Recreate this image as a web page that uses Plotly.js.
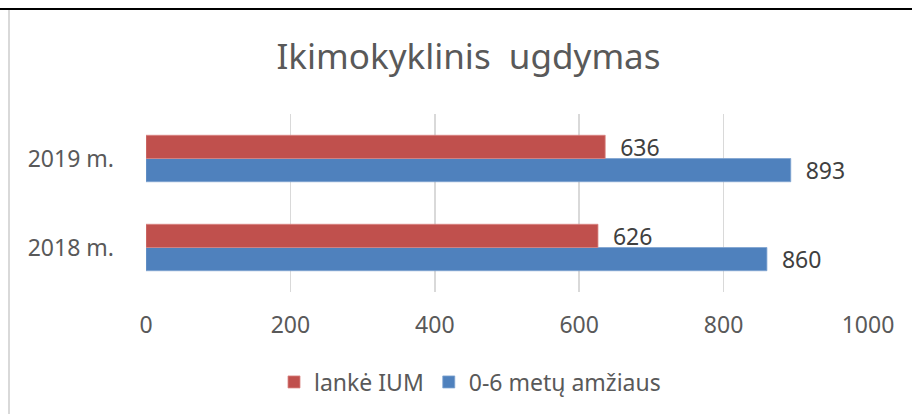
<!DOCTYPE html>
<html>
<head>
<meta charset="utf-8">
<script src="https://cdn.plot.ly/plotly-3.0.1.min.js"></script>
<style>
  html, body { margin: 0; padding: 0; background: #fff; }
  #wrap { position: relative; width: 912px; height: 414px; overflow: hidden; }
  #chart { position: absolute; left: 0; top: 0; width: 912px; height: 414px; }
  #topline { position: absolute; left: 0; top: 8px; width: 912px; height: 2px; background: #000; z-index: 5; }
  #leftline { position: absolute; left: 8px; top: 10px; width: 1.5px; height: 404px; background: #d9d9d9; z-index: 5; }
</style>
</head>
<body>
<div id="wrap">
  <div id="chart"></div>
  <div id="topline"></div>
  <div id="leftline"></div>
</div>
<script>
const categories = ["2018 m.", "2019 m."];
const seriesNames = ["lankė IUM", "0-6 metų amžiaus"];
const lankeIUM = [626, 636];
const amziaus06 = [860, 893];
const xTicks = [0, 200, 400, 600, 800, 1000];

const labelFont = { family: "Noto Sans, Open Sans, sans-serif", size: 23, color: "#404040" };

const traces = [
  {
    type: "bar", orientation: "h", name: seriesNames[1],
    y: categories, x: amziaus06,
    marker: { color: "#4F81BD", line: { color: "#7FA3D1", width: 0.8 } },
    text: amziaus06.map(v => "\u00a0\u00a0" + v), textposition: "outside",
    textfont: labelFont, constraintext: "none", cliponaxis: false,
    hoverinfo: "x+name"
  },
  {
    type: "bar", orientation: "h", name: seriesNames[0],
    y: categories, x: lankeIUM,
    marker: { color: "#C0504D", line: { color: "#D98583", width: 0.8 } },
    text: lankeIUM.map(v => "\u00a0\u00a0" + v), textposition: "outside",
    textfont: labelFont, constraintext: "none", cliponaxis: false,
    hoverinfo: "x+name"
  }
];

const layout = {
  width: 912, height: 414,
  margin: { l: 146, r: 43.5, t: 114, b: 122, pad: 0 },
  paper_bgcolor: "#fff", plot_bgcolor: "#fff",
  barmode: "group", bargap: 0.478, bargroupgap: 0,
  title: {
    text: "Ikimokyklinis\u00a0 ugdymas",
    font: { family: "Noto Sans, Open Sans, sans-serif", size: 35, color: "#595959" },
    xref: "container", x: 468.5 / 912, xanchor: "center",
    yref: "container", y: 1 - 57 / 414, yanchor: "middle"
  },
  xaxis: {
    range: [0, 1000], tickvals: xTicks, ticktext: xTicks.map(String),
    showgrid: true, gridcolor: "#D9D9D9", gridwidth: 1.5,
    zeroline: false, showline: false, ticks: "",
    tickfont: { family: "Noto Sans, Open Sans, sans-serif", size: 23, color: "#595959" },
    ticklabelstandoff: 17, fixedrange: true
  },
  yaxis: {
    type: "category", categoryorder: "array", categoryarray: categories,
    range: [-0.5, 1.5], showgrid: false, zeroline: false, showline: false, ticks: "",
    tickfont: { family: "Noto Sans, Open Sans, sans-serif", size: 23, color: "#595959" },
    ticklabelstandoff: 31, fixedrange: true
  },
  showlegend: true,
  legend: {
    orientation: "h", traceorder: "reversed",
    xref: "container", x: 470 / 912, xanchor: "center",
    yref: "container", y: 1 - 382 / 414, yanchor: "middle",
    font: { family: "Noto Sans, Open Sans, sans-serif", size: 23, color: "#595959" },
    itemwidth: 30, bgcolor: "rgba(0,0,0,0)"
  }
};

Plotly.newPlot("chart", traces, layout, { displayModeBar: false, staticPlot: true });
</script>
</body>
</html>
